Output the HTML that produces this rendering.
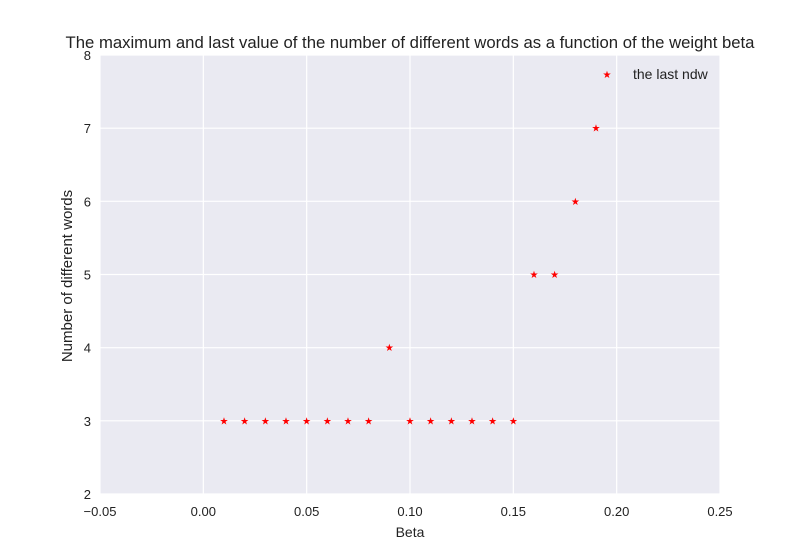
<!DOCTYPE html>
<html><head><meta charset="utf-8"><style>
body{margin:0;background:#fff;font-family:"Liberation Sans",sans-serif;}
</style></head><body>
<svg id="chart" width="800" height="550" xmlns="http://www.w3.org/2000/svg">
<text x="410" y="48" text-anchor="middle" font-size="16.7" fill="#222">The maximum and last value of the number of different words as a function of the weight beta</text>
<rect x="100" y="55" width="620" height="439" fill="#eaeaf2"/>
<g id="grid"></g><g id="ticks"></g><g id="marks"></g>
<text x="410" y="537" text-anchor="middle" font-size="14" fill="#222">Beta</text>
<text transform="translate(72,276) rotate(-90)" text-anchor="middle" font-size="15" fill="#222">Number of different words</text>
<g>
<text x="607" y="78" text-anchor="middle" font-size="10" fill="red">★</text>
<text x="633" y="79" font-size="14" fill="#222">the last ndw</text>
</g>
</svg>
<script>
const xTicks=[-0.05,0,0.05,0.1,0.15,0.2,0.25];
const xTickLabels=["\u22120.05","0.00","0.05","0.10","0.15","0.20","0.25"];
const yTicks=[2,3,4,5,6,7,8];
const betas=[0.01,0.02,0.03,0.04,0.05,0.06,0.07,0.08,0.09,0.10,0.11,0.12,0.13,0.14,0.15,0.16,0.17,0.18,0.19];
const lastNdw=[3,3,3,3,3,3,3,3,4,3,3,3,3,3,3,5,5,6,7];
const X=v=>100+(v+0.05)/0.3*620;
const Y=v=>494-(v-2)/6*439;
const ns="http://www.w3.org/2000/svg";
function mk(tag,attrs,parent,txt){const e=document.createElementNS(ns,tag);for(const k in attrs)e.setAttribute(k,attrs[k]);if(txt!==undefined)e.textContent=txt;document.getElementById(parent).appendChild(e);return e;}
xTicks.forEach((t,i)=>{
 const l=mk('line',{x1:X(t),x2:X(t),y1:55,y2:494,stroke:'#fff','stroke-width':1.2},'grid');
 
 
 const tx=mk('text',{x:X(t),y:516,'text-anchor':'middle','font-size':13,fill:'#222'},'ticks',xTickLabels[i]);
 
 
});
yTicks.forEach(t=>{
 const l=mk('line',{x1:100,x2:720,y1:Y(t),y2:Y(t),stroke:'#fff','stroke-width':1.2},'grid');
 
 
 const tx=mk('text',{x:91,y:Y(t)+5,'text-anchor':'end','font-size':13,fill:'#222'},'ticks',String(t));
 
 
});
betas.forEach((b,i)=>{
 const p=mk('text',{x:X(b),y:Y(lastNdw[i])+3.5,'text-anchor':'middle','font-size':10,fill:'red'},'marks','★');
 
 
});
</script>
</body></html>
